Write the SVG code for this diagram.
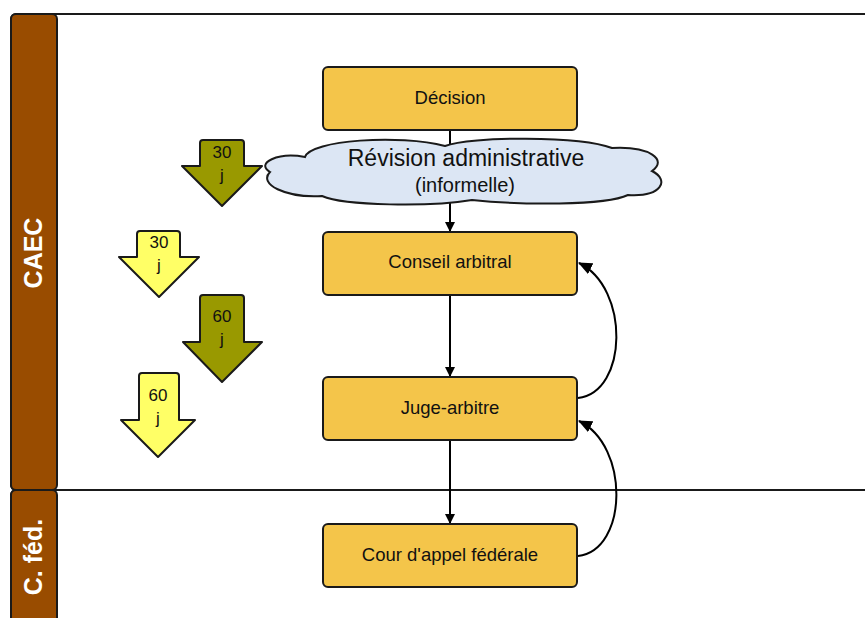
<svg xmlns="http://www.w3.org/2000/svg" width="865" height="618" viewBox="0 0 865 618">
<defs>
<style>
.lane{fill:#fff;stroke:#1a1a1a;stroke-width:2}
.hdr{fill:#994c00;stroke:#1a1a1a;stroke-width:2}
.hdrt{font-family:"Liberation Sans",Arial,sans-serif;font-weight:bold;font-size:25px;fill:#fff;text-anchor:middle}
.box{fill:#f4c54a;stroke:#1a1a1a;stroke-width:2}
.bt{font-family:"Liberation Sans",Arial,sans-serif;font-size:18.5px;fill:#111;text-anchor:middle}
.olive{fill:#999900;stroke:#1a1a1a;stroke-width:2;stroke-linejoin:round}
.yel{fill:#ffff66;stroke:#1a1a1a;stroke-width:2;stroke-linejoin:round}
.at{font-family:"Liberation Sans",Arial,sans-serif;font-size:17px;fill:#111;text-anchor:middle}
.cloud{fill:#dce6f4;stroke:#1a1a1a;stroke-width:2}
.con{fill:none;stroke:#000;stroke-width:2}
</style>
<marker id="ah" markerWidth="10" markerHeight="10" refX="9" refY="5" orient="auto" markerUnits="userSpaceOnUse" viewBox="0 0 10 10">
<path d="M0,0 L10,5 L0,10 Z" fill="#000"/>
</marker>
<marker id="ah2" markerWidth="14" markerHeight="12" refX="13" refY="6" orient="auto" markerUnits="userSpaceOnUse" viewBox="0 0 14 12">
<path d="M0,0 L14,6 L0,12 Z" fill="#000"/>
</marker>
</defs>

<g id="lane-caec">
<rect class="lane" x="11" y="14" width="880" height="476" rx="5"/>
<rect class="hdr" x="11" y="14" width="46" height="476" rx="5"/>
<text class="hdrt" transform="translate(42,253) rotate(-90)">CAEC</text>
</g>
<g id="lane-cfed">
<rect class="lane" x="11" y="490" width="880" height="150" rx="5"/>
<rect class="hdr" x="11" y="490" width="46" height="150" rx="5"/>
<text class="hdrt" transform="translate(42,557) rotate(-90)">C. féd.</text>
</g>

<g id="connectors">
<line class="con" x1="450" y1="130" x2="450" y2="146"/>
<line class="con" x1="450" y1="201" x2="450" y2="231" marker-end="url(#ah)"/>
<line class="con" x1="450" y1="295" x2="450" y2="376" marker-end="url(#ah)"/>
<line class="con" x1="450" y1="440" x2="450" y2="523" marker-end="url(#ah)"/>
<path class="con" d="M578,398 C628,392 630,288 579,263" marker-end="url(#ah2)"/>
<path class="con" d="M578,556 C628,550 630,446 579,421" marker-end="url(#ah2)"/>
</g>

<g id="decision">
<rect class="box" x="323" y="67" width="254" height="63" rx="5"/>
<text class="bt" x="450" y="104">Décision</text>
</g>

<g id="revision">
<path class="cloud" d="M305,157 C310,140 400,134 445,146 C470,136 580,136 612,148 C650,146 668,160 652,171 C670,180 662,197 628,195 C605,206 520,205 472,200 C430,207 345,206 322,196 C285,198 258,184 270,172 C255,163 278,152 305,157 Z"/>
<text x="466" y="166" style="font-family:'Liberation Sans',Arial,sans-serif;font-size:23px;fill:#111;text-anchor:middle">Révision administrative</text>
<text x="465" y="192" style="font-family:'Liberation Sans',Arial,sans-serif;font-size:20px;fill:#111;text-anchor:middle">(informelle)</text>
</g>

<g id="conseil">
<rect class="box" x="323" y="232" width="254" height="63" rx="5"/>
<text class="bt" x="450" y="268">Conseil arbitral</text>
</g>

<g id="juge">
<rect class="box" x="323" y="377" width="254" height="63" rx="5"/>
<text class="bt" x="450" y="414">Juge-arbitre</text>
</g>

<g id="cour">
<rect class="box" x="323" y="524" width="254" height="63" rx="5"/>
<text class="bt" x="450" y="561">Cour d'appel fédérale</text>
</g>

<g id="delai-30-olive">
<path class="olive" d="M203,140 L241,140 Q244,140 244,143 L244,166 L262,166 L222,206 L182,166 L200,166 L200,143 Q200,140 203,140 Z"/>
<text class="at" x="222" y="158">30</text>
<text class="at" x="222" y="181">j</text>
</g>

<g id="delai-30-yellow">
<path class="yel" d="M140,231 L177,231 Q180,231 180,234 L180,257 L199,257 L159,297 L119,257 L137,257 L137,234 Q137,231 140,231 Z"/>
<text class="at" x="159" y="248">30</text>
<text class="at" x="159" y="271">j</text>
</g>

<g id="delai-60-olive">
<path class="olive" d="M203,295 L241,295 Q244,295 244,298 L244,342 L262,342 L222,382 L183,342 L200,342 L200,298 Q200,295 203,295 Z"/>
<text class="at" x="222" y="322">60</text>
<text class="at" x="222" y="345">j</text>
</g>

<g id="delai-60-yellow">
<path class="yel" d="M142,373 L176,373 Q179,373 179,376 L179,420 L195,420 L158,457 L121,420 L139,420 L139,376 Q139,373 142,373 Z"/>
<text class="at" x="158" y="401">60</text>
<text class="at" x="158" y="424">j</text>
</g>
</svg>
